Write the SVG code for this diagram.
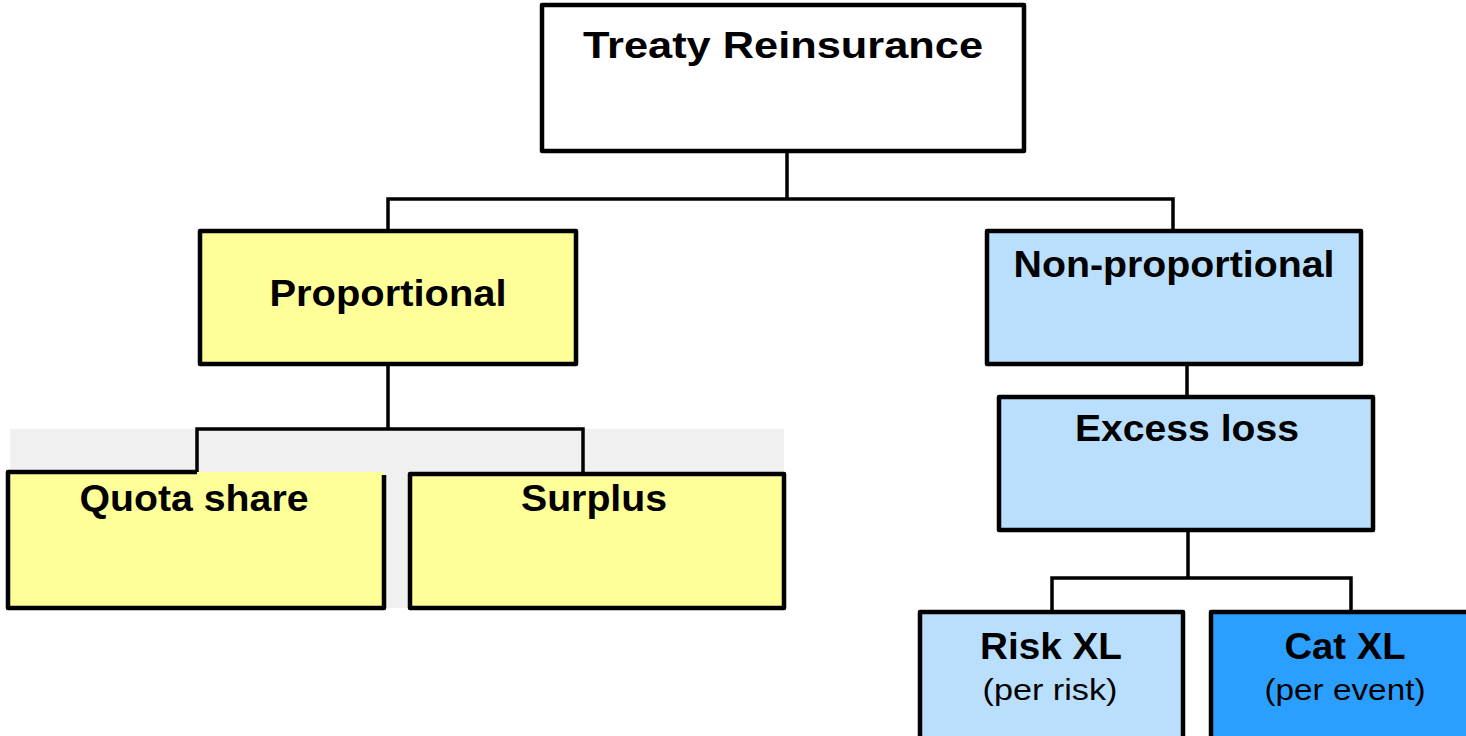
<svg xmlns="http://www.w3.org/2000/svg" width="1466" height="736" viewBox="0 0 1466 736">
<style>
.box{stroke:#000;stroke-width:4.5;stroke-linejoin:round}
.yel{fill:#FFFF99}
.lb{fill:#B9DFFD}
.db{fill:#2A9FFF}
.t{font-family:"Liberation Sans",Arial,sans-serif;font-weight:bold;font-size:36px;text-anchor:middle;fill:#000}
.s{font-family:"Liberation Sans",Arial,sans-serif;font-size:30px;text-anchor:middle;fill:#000}
.c{fill:none;stroke:#000;stroke-width:3.5}
</style>
<rect width="1466" height="736" fill="#fff"/>
<rect x="10" y="429" width="774" height="179" fill="#F0F0F0"/>
<g id="connectors">
<path class="c" d="M787 152V199M388 230V199H1173V230"/>
<path class="c" d="M388 364V429M197 472V429H583V474"/>
<path class="c" d="M1187 364V397"/>
<path class="c" d="M1188 530V578M1052 612V578H1351V612"/>
</g>
<g id="treaty">
<rect class="box" x="542" y="5" width="482" height="146" fill="#fff"/>
<text class="t" x="783" y="58" font-size="42" textLength="400" lengthAdjust="spacingAndGlyphs">Treaty Reinsurance</text>
</g>
<g id="proportional">
<rect class="box yel" x="200" y="231" width="376" height="133"/>
<text class="t" x="388" y="306" textLength="237" lengthAdjust="spacingAndGlyphs">Proportional</text>
</g>
<g id="nonproportional">
<rect class="box lb" x="987" y="231" width="374" height="133"/>
<text class="t" x="1174" y="277" textLength="321" lengthAdjust="spacingAndGlyphs">Non-proportional</text>
</g>
<g id="excessloss">
<rect class="box lb" x="999" y="397" width="374" height="133"/>
<text class="t" x="1187" y="441" textLength="224" lengthAdjust="spacingAndGlyphs">Excess loss</text>
</g>
<g id="quotashare">
<rect class="yel" x="8" y="472" width="376" height="136"/>
<path class="box" fill="none" d="M197 472H8V608H384V475"/>
<text class="t" x="194" y="511" font-size="34" textLength="229" lengthAdjust="spacingAndGlyphs">Quota share</text>
</g>
<g id="surplus">
<rect class="box yel" x="410" y="474" width="374" height="134"/>
<text class="t" x="594" y="511" font-size="34" textLength="146" lengthAdjust="spacingAndGlyphs">Surplus</text>
</g>
<g id="riskxl">
<rect class="box lb" x="920" y="612" width="263" height="140"/>
<text class="t" x="1051" y="659" font-size="35" textLength="142" lengthAdjust="spacingAndGlyphs">Risk XL</text>
<text class="s" x="1050" y="700" textLength="135" lengthAdjust="spacingAndGlyphs">(per risk)</text>
</g>
<g id="catxl">
<rect class="box db" x="1211" y="612" width="270" height="140"/>
<text class="t" x="1345" y="659" font-size="35" textLength="121" lengthAdjust="spacingAndGlyphs">Cat XL</text>
<text class="s" x="1345" y="700" textLength="161" lengthAdjust="spacingAndGlyphs">(per event)</text>
</g>
</svg>
